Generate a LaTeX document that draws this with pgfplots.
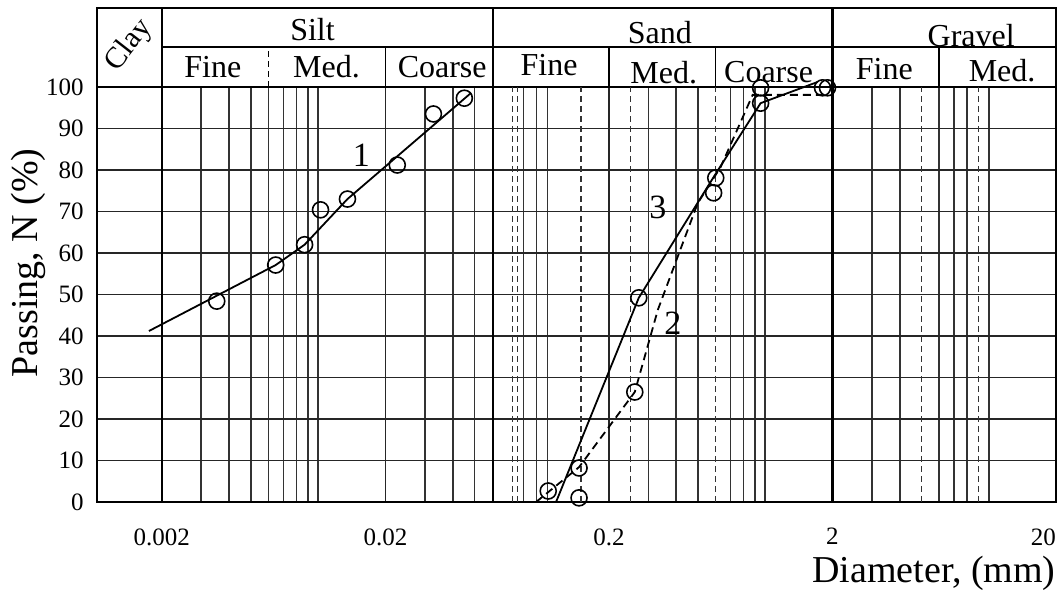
\documentclass[border=0pt]{standalone}
\usepackage{fontspec}
\setmainfont{Liberation Serif}
\usepackage{pgfplots}
\pgfplotsset{compat=1.18}
\begin{document}
\begin{tikzpicture}
\begin{semilogxaxis}[
  scale only axis, width=479.5pt, height=207.5pt,
  at={(0,0)}, anchor=south west,
  xmin=0.001025, xmax=20, ymin=0, ymax=100,
  clip=false,
  axis line style={line width=1.3pt},
  xtick={0.002,0.02,0.2,2,20},
  xticklabels={0.002,0.02,0.2,2,\llap{20}},
  minor xtick={0.003,0.004,0.005,0.006,0.007,0.008,0.009,0.01,0.03,0.04,0.05,0.083,0.095,0.106,0.3,0.4,0.5,0.7,0.8,0.9,1,3,4,6,7,8,10},
  extra x ticks={0.074,0.078,0.15,0.25,0.6,5,9},
  extra x tick labels={},
  extra x tick style={major grid style={line width=0.8pt, black!80, dash pattern=on 3pt off 2pt}},
  ytick={0,10,...,100},
  major tick length=0pt, minor tick length=0pt,
  grid=both,
  major grid style={line width=0.9pt, black!85},
  minor grid style={line width=0.8pt, black!80},
  /pgf/number format/assume math mode=true,
  tick label style={font=\fontsize{12.5}{14}\selectfont},
  xticklabel style={anchor=north, inner sep=0pt, yshift=-13pt},
  yticklabel style={anchor=east, inner sep=0pt, xshift=-6.5pt},
  ylabel={Passing, N (\%)},
  xlabel={Diameter, (mm)},
  every axis y label/.style={at={([xshift=-34.5pt]axis description cs:0,0.576)}, rotate=90, anchor=center, font=\fontsize{19}{22}\selectfont},
  every axis x label/.style={at={(axis description cs:1,0)}, anchor=east, inner sep=0pt, yshift=-35.5pt, font=\fontsize{19}{22}\selectfont},
]
% curve 1
\addplot[line width=0.9pt, no marks] coordinates {
  (0.00175,41.2) (0.00646,57.1) (0.00870,62.0) (0.01353,73.0) (0.0484,98.6)};
\addplot[only marks, mark=o, mark size=4pt, mark options={line width=0.8pt}] coordinates {
  (0.00352,48.4) (0.00646,57.1) (0.00870,62.0) (0.01025,70.4) (0.01353,73.0)
  (0.0226,81.2) (0.0328,93.5) (0.0451,97.3)};
% curve 3 (solid)
\addplot[line width=0.9pt, no marks] coordinates {
  (0.116,0) (0.272,49.2) (0.588,78.3) (0.954,96.1) (1.714,101.2)};
\addplot[only marks, mark=o, mark size=4pt, mark options={line width=0.8pt}] coordinates {
  (0.147,1.0) (0.272,49.2) (0.601,78.1) (0.954,96.1) (1.90,99.8)};
% curve 2 (dashed)
\addplot[line width=0.9pt, no marks, dash pattern=on 4pt off 2.5pt] coordinates {
  (0.0944,0) (0.147,8.4) (0.261,26.5) (0.331,46.3) (0.499,72.0) (0.632,80.7) (0.879,98.1) (1.805,98.1)};
\addplot[only marks, mark=o, mark size=4pt, mark options={line width=0.8pt}] coordinates {
  (0.107,2.65) (0.147,8.2) (0.261,26.5) (0.588,74.5) (0.954,99.8) (1.805,99.8)};
% structural lines of the chart
\draw[line width=1.3pt] (axis cs:0.002,0) -- (axis cs:0.002,119.04);
\draw[line width=1.3pt] (axis cs:0.001025,100) -- (axis cs:0.001025,119.04) -- (axis cs:20,119.04) -- (axis cs:20,100);
\draw[line width=1.1pt] (axis cs:0.002,109.64) -- (axis cs:20,109.64);
\draw[line width=1.1pt] (axis cs:0.0607,0) -- (axis cs:0.0607,119.04);
\draw[line width=1.1pt] (axis cs:2,0) -- (axis cs:2,119.04);
\draw[line width=0.9pt, dash pattern=on 3pt off 2pt] (axis cs:0.006,100) -- (axis cs:0.006,109.64);
\draw[line width=0.9pt] (axis cs:0.02,100) -- (axis cs:0.02,109.64);
\draw[line width=0.9pt] (axis cs:0.2,100) -- (axis cs:0.2,109.64);
\draw[line width=0.9pt] (axis cs:0.6,100) -- (axis cs:0.6,109.64);
\draw[line width=0.9pt] (axis cs:6,100) -- (axis cs:6,109.64);
% header texts
\begin{scope}[every node/.style={font=\fontsize{16}{19}\selectfont, anchor=base, inner sep=0pt}]
\node at (axis cs:0.00944,111.1) {Silt};
\node at (axis cs:0.338,110.6) {Sand};
\node at (axis cs:8.35,109.8) {Gravel};
\node at (axis cs:0.00338,102.4) {Fine};
\node at (axis cs:0.01091,102.4) {Med.};
\node at (axis cs:0.0359,102.4) {Coarse};
\node at (axis cs:0.108,102.65) {Fine};
\node at (axis cs:0.352,100.9) {Med.};
\node at (axis cs:1.036,101.2) {Coarse};
\node at (axis cs:3.41,101.9) {Fine};
\node at (axis cs:11.48,101.4) {Med.};
\end{scope}
\node[font=\fontsize{15}{17}\selectfont, rotate=52, inner sep=0pt] at (axis cs:0.00143,110.0) {Clay};
% curve labels
\node[font=\fontsize{17}{20}\selectfont] at (axis cs:0.0156,83.6) {1};
\node[font=\fontsize{17}{20}\selectfont] at (axis cs:0.331,71.1) {3};
\node[font=\fontsize{17}{20}\selectfont] at (axis cs:0.386,43.1) {2};
\end{semilogxaxis}
\pgfresetboundingbox
\path[use as bounding box] (-48.5pt,-48pt) rectangle (483pt,251pt);
\end{tikzpicture}
\end{document}
